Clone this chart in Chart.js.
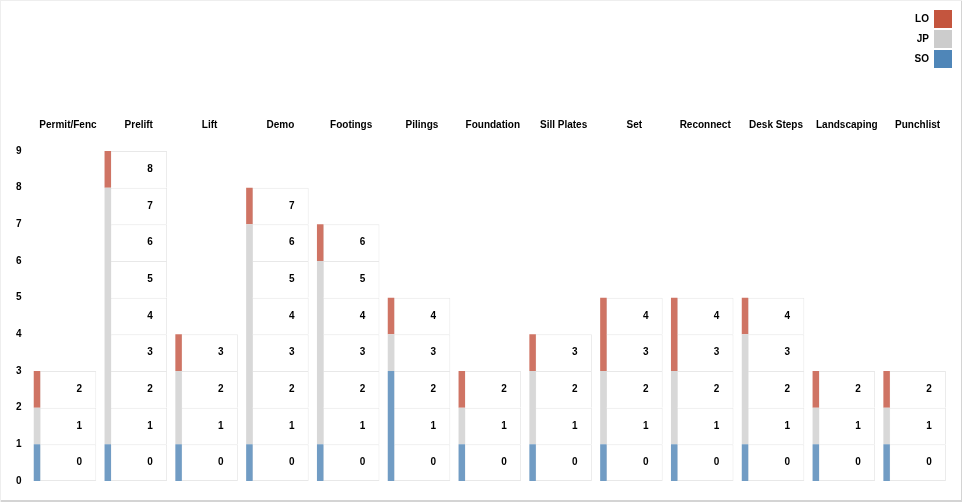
<!DOCTYPE html>
<html lang="en">
<head>
<meta charset="UTF-8">
<title>Phases</title>
<style>
    body {
        margin: 0;
        background: #fff;
    }
    #wrap {
        position: relative;
        width: 962px;
        height: 502px;
        box-shadow: inset 1px 1px 0 #eeeeee, inset -1px -2px 0 #d4d4d4;
    }
</style>
</head>
<body>
<div id="wrap"><canvas id="chart"></canvas></div>

<script src="https://cdn.jsdelivr.net/npm/chart.js"></script>
<script>
    // data
    const phases = ['Permit/Fenc', 'Prelift', 'Lift', 'Demo', 'Footings', 'Pilings', 'Foundation',
                    'Sill Plates', 'Set', 'Reconnect', 'Desk Steps', 'Landscaping', 'Punchlist'];
    const soValues = [1, 1, 1, 1, 1, 3, 1, 1, 1, 1, 1, 1, 1];
    const jpValues = [1, 7, 2, 6, 5, 1, 1, 2, 2, 2, 3, 1, 1];
    const loValues = [1, 1, 1, 1, 1, 1, 1, 1, 2, 2, 1, 1, 1];
    const yTicks = [0, 1, 2, 3, 4, 5, 6, 7, 8, 9];

    const FONT = '"Liberation Sans", Arial, Helvetica, sans-serif';
    const legendColors = { SO: '#4f86b8', JP: '#cccccc', LO: '#c4553e' };
    const barColors = { SO: '#719cc4', JP: '#d8d8d8', LO: '#cf7464' };
    const barShift = -0.4375; // colored bar sits left of the boxes

    // one box per unit of the stacked total
    const totals = phases.map((p, i) => soValues[i] + jpValues[i] + loValues[i]);
    const maxTotal = Math.max(...totals);

    const boxSets = [];
    for (let k = 0; k < maxTotal; k++) {
        boxSets.push({
            label: 'box' + k,
            level: k,
            xAxisID: 'x',
            stack: 'box',
            grouped: false,
            data: totals.map(t => (k < t ? 1 : null)),
            backgroundColor: '#ffffff',
            borderColor: '#e8e8e8',
            borderWidth: { top: 1, right: 1, bottom: k === 0 ? 1 : 0, left: 1 },
            borderSkipped: false,
            categoryPercentage: 1,
            barPercentage: 0.8
        });
    }

    function colorSet(name, values) {
        return {
            label: name,
            xAxisID: 'xl',
            stack: 'c',
            grouped: false,
            data: values.map((v, i) => ({ x: i + barShift, y: v })),
            backgroundColor: barColors[name],
            borderWidth: 0,
            maxBarThickness: 6.5
        };
    }

    const boxNumbers = {
        id: 'boxNumbers',
        afterDatasetsDraw(chart) {
            const ctx = chart.ctx;
            ctx.save();
            ctx.font = 'bold 10px ' + FONT;
            ctx.fillStyle = '#000';
            ctx.textAlign = 'center';
            ctx.textBaseline = 'middle';
            chart.data.datasets.forEach((ds, di) => {
                if (ds.stack !== 'box') return;
                chart.getDatasetMeta(di).data.forEach((bar, i) => {
                    if (ds.data[i] == null) return;
                    ctx.fillText(String(ds.level), bar.x + bar.width / 2 - 17, (bar.y + bar.base) / 2);
                });
            });
            ctx.restore();
        }
    };

    // legend takes 1px in the layout, then is widened so it is not clipped
    const legendRoom = {
        id: 'legendRoom',
        afterLayout(chart) {
            const lg = chart.legend;
            if (!lg) return;
            lg.left -= 80;
            lg.width += 80;
        }
    };

    new Chart(document.getElementById('chart'), {
        type: 'bar',
        data: {
            labels: phases,
            datasets: [
                colorSet('SO', soValues),
                colorSet('JP', jpValues),
                colorSet('LO', loValues),
                ...boxSets
            ]
        },
        options: {
            responsive: true,
            maintainAspectRatio: false,
            animation: false,
            layout: { padding: { top: 8, right: 8, bottom: 21, left: 5 } },
            plugins: {
                tooltip: { enabled: false },
                legend: {
                    position: 'right',
                    align: 'start',
                    rtl: true,
                    maxWidth: 1,
                    labels: {
                        boxWidth: 18,
                        boxHeight: 18,
                        padding: 2,
                        color: '#000',
                        font: { family: FONT, size: 10, weight: 'bold' },
                        generateLabels: () => ['LO', 'JP', 'SO'].map(n => ({
                            text: n,
                            fillStyle: legendColors[n],
                            strokeStyle: legendColors[n],
                            lineWidth: 0,
                            hidden: false
                        }))
                    }
                }
            },
            scales: {
                x: {
                    type: 'category',
                    position: 'top',
                    grid: { display: false, drawTicks: false },
                    border: { display: false },
                    ticks: {
                        padding: 20,
                        color: '#000',
                        maxRotation: 0,
                        autoSkip: false,
                        font: { family: FONT, size: 10, weight: 'bold' }
                    },
                    afterFit: scale => {
                        scale.height = 143;
                        scale.paddingLeft = 0;
                        scale.paddingRight = 0;
                    }
                },
                xl: {
                    type: 'linear',
                    display: false,
                    min: -0.5,
                    max: phases.length - 0.5,
                    offset: false
                },
                y: {
                    stacked: true,
                    min: yTicks[0],
                    max: yTicks[yTicks.length - 1],
                    grid: { display: false, drawTicks: false },
                    border: { display: false },
                    afterBuildTicks: scale => { scale.ticks = yTicks.map(v => ({ value: v })); },
                    ticks: {
                        padding: 11,
                        color: '#000',
                        font: { family: FONT, size: 10, weight: 'bold' }
                    }
                }
            }
        },
        plugins: [boxNumbers, legendRoom]
    });
</script>
</body>
</html>
